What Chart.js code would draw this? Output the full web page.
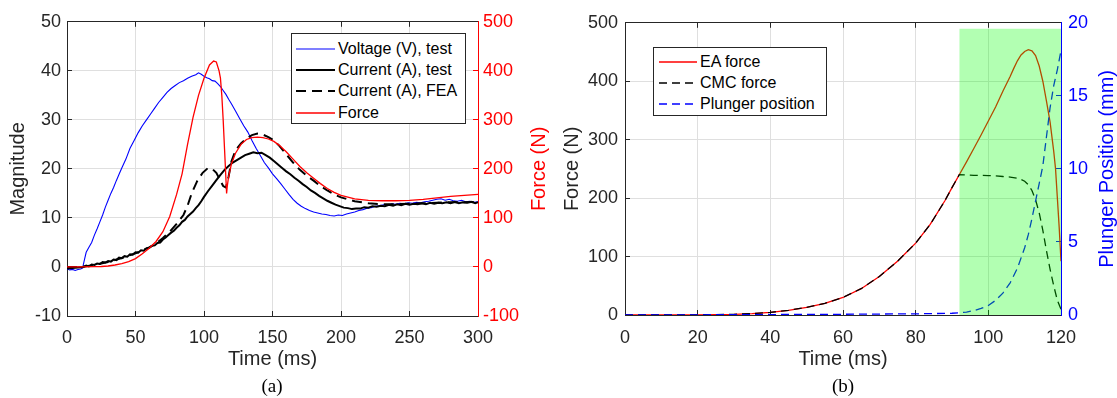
<!DOCTYPE html>
<html><head><meta charset="utf-8">
<script src="https://cdn.jsdelivr.net/npm/chart.js@4.4.0/dist/chart.umd.min.js"></script>
<style>
html,body{margin:0;padding:0;background:#fff}
body{width:1117px;height:398px;overflow:hidden;position:relative;font-family:"Liberation Sans",Arial,Helvetica,sans-serif}
.wrap{position:absolute;top:0;height:398px}
#wa{left:0;width:560px}
#wb{left:560px;width:557px}
.cap{position:absolute;top:375px;font-family:"Liberation Serif","Times New Roman",serif;font-size:19px;color:#000;transform:translateX(-50%);white-space:nowrap}
.leg{position:absolute;box-sizing:border-box;border:1px solid #262626;background:#fff;font-size:16px;color:#000}
.leg .row{display:flex;align-items:center;height:21.4px;white-space:nowrap}
.leg svg{display:block;margin-right:3px}
</style></head>
<body>
<div class="wrap" id="wa"><canvas id="ca" width="560" height="398"></canvas></div>
<div class="wrap" id="wb"><canvas id="cb" width="557" height="398"></canvas></div>
<div class="cap" style="left:272px">(a)</div>
<div class="cap" style="left:843px">(b)</div>
<div class="leg" id="lega" style="left:291px;top:33px;width:175px;height:91px;padding:4px 0 0 4px"></div>
<div class="leg" id="legb" style="left:653px;top:47px;width:174px;height:69px;padding:3px 0 0 5px"></div>
<script>
// ---------------- (a) data ----------------
const voltTime = [0,2,4,6,8,10,11.5,12,13,14,16,18,20,22,24,26,28,30,32,34,36,38,40,43,46,49,52,55,58,61,64,67,70,73,76,79,82,85,88,91,94,96,98,100,102,104,106,108,110,112,114,116,118,120,123,126,129,132,135,138,141,144,147,150,153,156,159,162,165,168,171,174,177,180,183,186,189,192,195,198,201,204,207,210,213,216,219,222,225,228,231,234,237,240,243,246,249,252,255,258,261,264,267,270,273,276,279,282,285,288,291,294,297,300];
const voltValue = [-0.4,-0.6,-0.5,-0.7,-0.5,-0.4,-0.2,0.6,1.8,3.0,4.0,5.0,6.5,7.8,9.2,10.6,12.2,13.6,15.0,16.2,17.6,18.9,20.2,22.0,24.2,25.8,27.4,28.8,30.0,31.2,32.4,33.6,34.6,35.6,36.4,37.0,37.6,38.0,38.5,38.9,39.2,39.6,39.3,38.9,38.6,38.4,38.0,37.9,37.4,36.8,36.0,35.2,34.2,33.3,31.8,30.3,28.8,27.5,25.8,24.2,22.8,21.3,20.2,19.0,18.0,17.0,15.9,14.8,13.8,13.0,12.4,11.9,11.5,11.2,11.0,10.8,10.7,10.5,10.4,10.6,10.5,10.8,11.0,11.2,11.5,11.7,12.0,12.1,12.4,12.5,12.7,12.6,12.9,12.8,13.0,12.9,13.1,13.0,13.2,13.1,13.3,13.4,13.6,13.8,13.9,13.6,13.8,13.5,13.4,13.6,13.3,13.4,13.2,13.3];

const curTestTime = [0,4,8,12,14,16,18,20,22,24,26,28,30,32,34,36,38,40,42,44,46,48,50,52,54,56,58,60,62,64,66,68,70,72,74,76,78,80,82,84,86,88,90,92,94,96,98,100,103,106,109,112,115,118,121,124,127,130,133,136,139,142,145,148,151,154,157,160,163,166,169,172,175,178,181,184,187,190,193,196,199,202,205,208,211,214,217,220,223,226,229,232,235,238,241,244,247,250,253,256,259,262,265,268,271,274,277,280,283,286,289,292,295,298,300];
const curTestValue = [-0.3,-0.2,-0.1,0,0.3,0.1,0.5,0.4,0.7,0.6,1.0,0.9,1.2,1.1,1.5,1.4,1.9,1.8,2.2,2.1,2.6,2.5,3.0,2.9,3.4,3.3,3.8,3.9,4.3,4.4,4.9,5.0,5.6,6.0,6.5,7.0,7.4,8.0,8.5,9.2,9.6,10.3,10.8,11.3,12.0,12.6,13.4,14.3,15.5,16.6,17.7,18.8,19.8,20.6,21.3,21.8,22.3,22.8,23.1,23.4,23.2,23.3,22.8,22.3,21.6,20.9,20.2,19.5,18.9,18.2,17.6,16.9,16.3,15.6,15.1,14.5,14.0,13.5,13.1,12.7,12.4,12.1,12.0,11.8,11.9,11.9,12.2,12.1,12.4,12.3,12.5,12.4,12.7,12.5,12.8,12.6,12.9,12.7,12.9,12.8,13.0,12.8,13.1,12.9,13.1,13.0,13.2,13.0,13.3,13.0,13.2,13.1,13.3,13.0,13.2];

const curFeaTime = [0,10,20,30,40,50,60,65,70,75,80,85,88,91,95,99,103,106,109,112,114,116,118,120,123,127,131,135,139,143,147,151,155,160,165,170,175,180,185,190,195,200,210,220,230,240,250,260,270,280,290,300];
const curFeaValue = [0,0,0.4,1.0,1.8,2.8,4.0,4.8,5.9,7.2,8.8,10.6,12.5,15.0,17.5,19.2,20.2,20.0,19.2,17.6,16.5,16.2,18.5,21.5,23.8,25.2,26.2,26.9,27.2,27.0,26.5,25.8,24.7,23.0,21.3,19.8,18.6,17.6,16.5,15.6,14.8,14.2,13.4,13.0,12.8,12.8,12.9,13.0,13.1,13.2,13.2,13.3];

const forceATime = [0,10,20,25,30,35,40,45,50,55,60,65,70,75,80,84,88,92,96,100,104,107,109,111,112,113,114,115,116,116.5,117,118,120,123,127,131,135,139,143,147,151,155,160,165,170,175,180,185,190,195,200,210,220,230,240,250,260,270,280,290,300];
const forceAValue = [0,0,0.5,1,2,4,7,11,17,27,38,52,72,103,148,190,250,305,350,385,412,420,418,400,385,350,300,240,180,150,165,185,210,232,250,260,264,265,264,261,256,248,235,220,205,192,181,170,160,152,146,139,136,135,135,136,138,141,144,146,148];

const xTicksA = {min:0, max:300, step:50};
const yTicksA = {min:-10, max:50, step:10};
const y2TicksA = {min:-100, max:500, step:100};

// ---------------- (b) data ----------------
const eaTime = [0,10,20,25,30,35,40,45,50,55,60,65,70,75,80,84,88,90,92,94,96,98,100,102,104,106,107,108,109,110,111,112,113,114,115,116,117,118,118.5,119,119.5,120];
const eaForce = [0,0,0.3,0.6,1.2,2.5,4.5,8,13,20,30,45,66,92,123,155,195,218,240,262,285,308,332,356,383,408,422,435,445,451,454,452,444,426,400,366,330,280,250,200,150,92];

const cmcTime = [0,10,20,25,30,35,40,45,50,55,60,65,70,75,80,84,88,90,92,94,96,98,100,102,104,106,108,109,110,111,112,113,114,115,116,117,118,119,120];
const cmcForce = [0,0,0.3,0.6,1.2,2.5,4.5,8,13,20,30,45,66,92,123,155,195,218,240,239.5,239,239,238.5,238,237,236,234,232,229,223,213,197,175,145,110,78,50,25,10];

const plungerTime = [0,30,60,80,90,92,94,96,98,100,102,104,106,108,110,111,112,113,114,115,116,117,118,119,120];
const plungerPos = [0,0.02,0.05,0.08,0.12,0.15,0.2,0.3,0.45,0.65,1.0,1.5,2.2,3.2,4.6,5.5,6.6,7.8,9.0,10.2,12.2,14.2,15.7,16.8,18.1];

const zoneTime = [92,120];   // highlighted interval (ms)
const zoneTop = 490;         // N

const xTicksB = {min:0, max:120, step:20};
const yTicksB = {min:0, max:500, step:100};
const y2TicksB = {min:0, max:20, step:5};

// ---------------- helpers ----------------
const FONT = '"Liberation Sans", Arial, Helvetica, sans-serif';
const AX = '#262626';
const GRID = '#dfdfdf';
const TICK_SIZE = 18, TITLE_SIZE = 20;
const pts = (xs, ys) => xs.map((x, i) => ({x, y: ys[i]}));

const sideTitle = {
  id: 'sideTitle',
  afterDraw(chart, args, o) {
    if (!o || !o.text) return;
    const s = chart.scales[o.axis];
    const ctx = chart.ctx;
    ctx.save();
    ctx.translate(o.x, (s.top + s.bottom) / 2);
    ctx.rotate(-Math.PI / 2);
    ctx.font = o.size + 'px ' + FONT;
    ctx.fillStyle = o.color;
    ctx.textAlign = 'center';
    ctx.textBaseline = 'middle';
    ctx.fillText(o.text, 0, 0);
    ctx.restore();
  }
};

function xAxis(t, h, pad, titleText, titlePadB) {
  return {
    type: 'linear', position: 'bottom', min: t.min, max: t.max,
    ticks: {stepSize: t.step, color: AX, font: {size: TICK_SIZE, family: FONT}, padding: pad, maxRotation: 0, autoSkip: false},
    grid: {color: GRID, drawTicks: true, tickLength: -5, tickColor: AX},
    border: {color: AX, width: 1},
    title: {display: true, text: titleText, color: AX, font: {size: TITLE_SIZE, family: FONT}, padding: {top: 0, bottom: titlePadB}},
    afterFit: s => { s.height = h; }
  };
}
function xTop(t) {
  return {
    type: 'linear', position: 'top', min: t.min, max: t.max,
    ticks: {stepSize: t.step, display: false},
    grid: {drawOnChartArea: false, drawTicks: true, tickLength: -5, tickColor: AX},
    border: {color: AX, width: 1},
    afterFit: s => { s.height = 0; }
  };
}
function yLeft(t, w, pad, titleText, titlePadT) {
  return {
    type: 'linear', position: 'left', min: t.min, max: t.max,
    ticks: {stepSize: t.step, color: AX, font: {size: TICK_SIZE, family: FONT}, padding: pad},
    grid: {color: GRID, drawTicks: true, tickLength: -5, tickColor: AX},
    border: {color: AX, width: 1},
    title: {display: true, text: titleText, color: AX, font: {size: TITLE_SIZE, family: FONT}, padding: {top: titlePadT, bottom: 0}},
    afterFit: s => { s.width = w; }
  };
}
function yRight(t, w, pad, color) {
  return {
    type: 'linear', position: 'right', min: t.min, max: t.max,
    ticks: {stepSize: t.step, color: color, font: {size: TICK_SIZE, family: FONT}, padding: pad},
    grid: {drawOnChartArea: false, drawTicks: true, tickLength: -5, tickColor: color},
    border: {color: color, width: 1},
    afterFit: s => { s.width = w; }
  };
}

function buildLegend(chart, el, sampleW) {
  chart.data.datasets.forEach(ds => {
    if (!ds.label) return;
    const row = document.createElement('div');
    row.className = 'row';
    const svgNS = 'http://www.w3.org/2000/svg';
    const svg = document.createElementNS(svgNS, 'svg');
    svg.setAttribute('width', sampleW); svg.setAttribute('height', '10');
    const ln = document.createElementNS(svgNS, 'line');
    ln.setAttribute('x1', '0'); ln.setAttribute('x2', sampleW);
    ln.setAttribute('y1', '5'); ln.setAttribute('y2', '5');
    ln.setAttribute('stroke', ds.borderColor);
    ln.setAttribute('stroke-width', ds.borderWidth);
    if (ds.borderDash && ds.borderDash.length) ln.setAttribute('stroke-dasharray', ds.borderDash.join(' '));
    svg.appendChild(ln);
    const tx = document.createElement('span');
    tx.textContent = ds.label;
    row.appendChild(svg); row.appendChild(tx);
    el.appendChild(row);
  });
}

const common = {
  responsive: false, animation: false, devicePixelRatio: 1,
  parsing: false, normalized: true,
  elements: {point: {radius: 0}, line: {tension: 0, borderCapStyle: 'butt'}},
  plugins: {legend: {display: false}, tooltip: {enabled: false}}
};

// ---------------- chart (a) ----------------
const chartA = new Chart(document.getElementById('ca'), {
  type: 'line',
  data: {datasets: [
    {label: 'Voltage (V), test', data: pts(voltTime, voltValue), borderColor: '#0000ff', borderWidth: 1.1, yAxisID: 'y', order: 4},
    {label: 'Current (A), test', data: pts(curTestTime, curTestValue), borderColor: '#000000', borderWidth: 2, yAxisID: 'y', order: 2},
    {label: 'Current (A), FEA', data: pts(curFeaTime, curFeaValue), borderColor: '#000000', borderWidth: 2, borderDash: [10, 6], yAxisID: 'y', order: 3},
    {label: 'Force', data: pts(forceATime, forceAValue), borderColor: '#ff0000', borderWidth: 1.3, yAxisID: 'y2', order: 1}
  ]},
  options: Object.assign({}, common, {
    layout: {padding: {top: 21, left: 0, right: 0, bottom: 0}},
    scales: {
      x: xAxis(xTicksA, 82, 16, 'Time (ms)', 27),
      xt: xTop(xTicksA),
      y: yLeft(yTicksA, 67, 11, 'Magnitude', 6),
      y2: yRight(y2TicksA, 82, 10, '#ff0000')
    },
    plugins: Object.assign({}, common.plugins, {
      sideTitle: {axis: 'y2', text: 'Force (N)', color: '#ff0000', size: TITLE_SIZE, x: 539}
    })
  }),
  plugins: [sideTitle]
});
buildLegend(chartA, document.getElementById('lega'), 39);

// ---------------- chart (b) ----------------
const chartB = new Chart(document.getElementById('cb'), {
  type: 'line',
  data: {datasets: [
    {label: '', data: pts(zoneTime, [zoneTop, zoneTop]), borderWidth: 0, borderColor: 'rgba(0,0,0,0)', backgroundColor: 'rgba(0,255,0,0.3)', fill: 'origin', yAxisID: 'y', order: 0},
    {label: 'EA force', data: pts(eaTime, eaForce), borderColor: '#ff0000', borderWidth: 1.3, yAxisID: 'y', order: 3},
    {label: 'CMC force', data: pts(cmcTime, cmcForce), borderColor: '#000000', borderWidth: 1.3, borderDash: [8, 5], yAxisID: 'y', order: 2},
    {label: 'Plunger position', data: pts(plungerTime, plungerPos), borderColor: '#0000ff', borderWidth: 1.3, borderDash: [8, 5], yAxisID: 'y2', order: 1}
  ]},
  options: Object.assign({}, common, {
    layout: {padding: {top: 20, left: 0, right: 0, bottom: 0}},
    scales: {
      x: xAxis(xTicksB, 83, 17, 'Time (ms)', 27),
      xt: xTop(xTicksB),
      y: yLeft(yTicksB, 65, 12, 'Force (N)', 0.5),
      y2: yRight(y2TicksB, 56, 12, '#0000ff')
    },
    plugins: Object.assign({}, common.plugins, {
      sideTitle: {axis: 'y2', text: 'Plunger Position (mm)', color: '#0000ff', size: TITLE_SIZE, x: 547}
    })
  }),
  plugins: [sideTitle]
});
buildLegend(chartB, document.getElementById('legb'), 38);
</script>
</body></html>
